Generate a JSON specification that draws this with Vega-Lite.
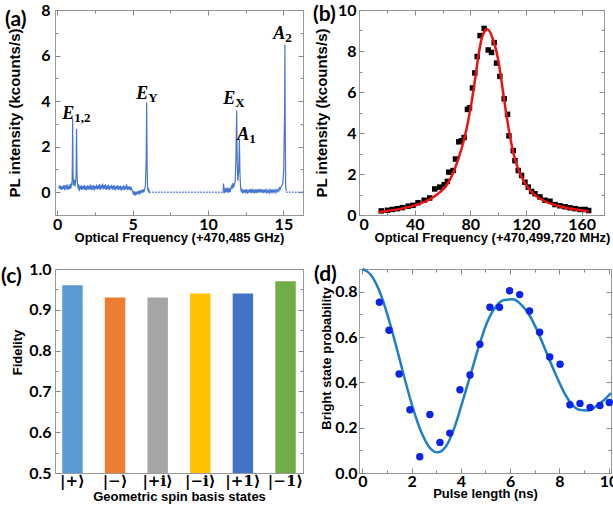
{
  "$schema": "https://vega.github.io/schema/vega-lite/v6.json",
  "padding": {"left": 0, "top": 1, "right": 0, "bottom": 0},
  "background": "white",
  "config": {
    "view": {"stroke": "#999999", "strokeWidth": 1},
    "axis": {"grid": false, "domain": false, "tickColor": "#888888", "tickWidth": 1, "labelFont": "Lato", "labelFontWeight": "bold", "labelFontSize": 16, "labelColor": "black", "titleFont": "Liberation Sans", "titleFontWeight": "bold", "titleFontSize": 13, "titleColor": "black"},
    "title": {"font": "Lato", "fontSize": 21, "fontWeight": "bold", "color": "black", "anchor": "start", "frame": "group", "baseline": "top", "offset": 0}
  },
  "datasets": {
    "specA": [
      {"f":0.10,"pl":0.18,"seg":"a"},{"f":0.15,"pl":0.30,"seg":"a"},{"f":0.20,"pl":0.12,"seg":"a"},{"f":0.25,"pl":0.28,"seg":"a"},{"f":0.30,"pl":0.10,"seg":"a"},{"f":0.35,"pl":0.26,"seg":"a"},{"f":0.40,"pl":0.15,"seg":"a"},{"f":0.45,"pl":0.32,"seg":"a"},{"f":0.50,"pl":0.08,"seg":"a"},{"f":0.55,"pl":0.25,"seg":"a"},{"f":0.60,"pl":0.18,"seg":"a"},{"f":0.65,"pl":0.35,"seg":"a"},{"f":0.70,"pl":0.10,"seg":"a"},{"f":0.75,"pl":0.28,"seg":"a"},{"f":0.80,"pl":0.14,"seg":"a"},{"f":0.85,"pl":0.36,"seg":"a"},{"f":0.90,"pl":0.16,"seg":"a"},{"f":0.95,"pl":0.42,"seg":"a"},{"f":0.98,"pl":0.30,"seg":"a"},{"f":1.00,"pl":1.20,"seg":"a"},{"f":1.02,"pl":3.25,"seg":"a"},{"f":1.04,"pl":1.00,"seg":"a"},{"f":1.07,"pl":0.45,"seg":"a"},{"f":1.10,"pl":0.30,"seg":"a"},{"f":1.14,"pl":0.55,"seg":"a"},{"f":1.18,"pl":0.25,"seg":"a"},{"f":1.22,"pl":0.50,"seg":"a"},{"f":1.25,"pl":0.70,"seg":"a"},{"f":1.28,"pl":2.77,"seg":"a"},{"f":1.31,"pl":0.80,"seg":"a"},{"f":1.34,"pl":0.40,"seg":"a"},{"f":1.38,"pl":0.15,"seg":"a"},{"f":1.42,"pl":0.35,"seg":"a"},{"f":1.46,"pl":0.05,"seg":"a"},{"f":1.50,"pl":0.28,"seg":"a"},{"f":1.55,"pl":0.12,"seg":"a"},{"f":1.60,"pl":0.30,"seg":"a"},{"f":1.65,"pl":0.10,"seg":"a"},{"f":1.70,"pl":0.27,"seg":"a"},{"f":1.75,"pl":0.14,"seg":"a"},{"f":1.80,"pl":0.32,"seg":"a"},{"f":1.85,"pl":0.09,"seg":"a"},{"f":1.90,"pl":0.26,"seg":"a"},{"f":1.95,"pl":0.15,"seg":"a"},{"f":2.00,"pl":0.30,"seg":"a"},{"f":2.05,"pl":0.11,"seg":"a"},{"f":2.10,"pl":0.28,"seg":"a"},{"f":2.15,"pl":0.13,"seg":"a"},{"f":2.20,"pl":0.33,"seg":"a"},{"f":2.25,"pl":0.10,"seg":"a"},{"f":2.30,"pl":0.25,"seg":"a"},{"f":2.35,"pl":0.16,"seg":"a"},{"f":2.40,"pl":0.31,"seg":"a"},{"f":2.45,"pl":0.08,"seg":"a"},{"f":2.50,"pl":0.27,"seg":"a"},{"f":2.55,"pl":0.14,"seg":"a"},{"f":2.60,"pl":0.34,"seg":"a"},{"f":2.65,"pl":0.12,"seg":"a"},{"f":2.70,"pl":0.29,"seg":"a"},{"f":2.75,"pl":0.15,"seg":"a"},{"f":2.80,"pl":0.36,"seg":"a"},{"f":2.85,"pl":0.10,"seg":"a"},{"f":2.90,"pl":0.30,"seg":"a"},{"f":2.95,"pl":0.17,"seg":"a"},{"f":3.00,"pl":0.38,"seg":"a"},{"f":3.05,"pl":0.12,"seg":"a"},{"f":3.10,"pl":0.31,"seg":"a"},{"f":3.15,"pl":0.15,"seg":"a"},{"f":3.20,"pl":0.35,"seg":"a"},{"f":3.25,"pl":0.10,"seg":"a"},{"f":3.30,"pl":0.29,"seg":"a"},{"f":3.35,"pl":0.14,"seg":"a"},{"f":3.40,"pl":0.33,"seg":"a"},{"f":3.45,"pl":0.09,"seg":"a"},{"f":3.50,"pl":0.27,"seg":"a"},{"f":3.55,"pl":0.16,"seg":"a"},{"f":3.60,"pl":0.32,"seg":"a"},{"f":3.65,"pl":0.11,"seg":"a"},{"f":3.70,"pl":0.28,"seg":"a"},{"f":3.75,"pl":0.13,"seg":"a"},{"f":3.80,"pl":0.30,"seg":"a"},{"f":3.85,"pl":0.08,"seg":"a"},{"f":3.90,"pl":0.26,"seg":"a"},{"f":3.95,"pl":0.15,"seg":"a"},{"f":4.00,"pl":0.31,"seg":"a"},{"f":4.05,"pl":0.10,"seg":"a"},{"f":4.10,"pl":0.27,"seg":"a"},{"f":4.15,"pl":0.13,"seg":"a"},{"f":4.20,"pl":0.29,"seg":"a"},{"f":4.25,"pl":0.07,"seg":"a"},{"f":4.30,"pl":0.25,"seg":"a"},{"f":4.35,"pl":0.12,"seg":"a"},{"f":4.40,"pl":0.30,"seg":"a"},{"f":4.45,"pl":0.09,"seg":"a"},{"f":4.50,"pl":0.26,"seg":"a"},{"f":4.55,"pl":0.14,"seg":"a"},{"f":4.60,"pl":0.35,"seg":"a"},{"f":4.65,"pl":0.10,"seg":"a"},{"f":4.70,"pl":0.24,"seg":"a"},{"f":4.75,"pl":0.12,"seg":"a"},{"f":4.80,"pl":0.27,"seg":"a"},{"f":4.85,"pl":0.08,"seg":"a"},{"f":4.90,"pl":0.22,"seg":"a"},{"f":4.95,"pl":0.10,"seg":"a"},{"f":5.00,"pl":0.05,"seg":"a"},{"f":5.05,"pl":-0.10,"seg":"a"},{"f":5.10,"pl":0.05,"seg":"a"},{"f":5.15,"pl":-0.15,"seg":"a"},{"f":5.20,"pl":0.02,"seg":"a"},{"f":5.25,"pl":-0.12,"seg":"a"},{"f":5.30,"pl":0.04,"seg":"a"},{"f":5.35,"pl":-0.08,"seg":"a"},{"f":5.40,"pl":0.06,"seg":"a"},{"f":5.45,"pl":-0.10,"seg":"a"},{"f":5.50,"pl":0.08,"seg":"a"},{"f":5.55,"pl":-0.05,"seg":"a"},{"f":5.60,"pl":0.10,"seg":"a"},{"f":5.65,"pl":-0.02,"seg":"a"},{"f":5.70,"pl":0.12,"seg":"a"},{"f":5.75,"pl":0.00,"seg":"a"},{"f":5.80,"pl":0.15,"seg":"a"},{"f":5.85,"pl":0.30,"seg":"a"},{"f":5.90,"pl":1.50,"seg":"a"},{"f":5.93,"pl":3.94,"seg":"a"},{"f":5.96,"pl":1.20,"seg":"a"},{"f":5.99,"pl":0.20,"seg":"a"},{"f":6.02,"pl":0.05,"seg":"a"},{"f":6.05,"pl":0.18,"seg":"a"},{"f":6.08,"pl":-0.02,"seg":"a"},{"f":6.10,"pl":0.10,"seg":"a"},
      {"f":11.00,"pl":0.05,"seg":"b"},{"f":11.03,"pl":0.38,"seg":"b"},{"f":11.06,"pl":-0.05,"seg":"b"},{"f":11.10,"pl":0.20,"seg":"b"},{"f":11.14,"pl":-0.02,"seg":"b"},{"f":11.18,"pl":0.15,"seg":"b"},{"f":11.22,"pl":0.02,"seg":"b"},{"f":11.26,"pl":0.22,"seg":"b"},{"f":11.30,"pl":-0.03,"seg":"b"},{"f":11.34,"pl":0.12,"seg":"b"},{"f":11.38,"pl":0.05,"seg":"b"},{"f":11.42,"pl":0.18,"seg":"b"},{"f":11.46,"pl":0.00,"seg":"b"},{"f":11.50,"pl":0.10,"seg":"b"},{"f":11.55,"pl":0.25,"seg":"b"},{"f":11.60,"pl":0.15,"seg":"b"},{"f":11.65,"pl":0.40,"seg":"b"},{"f":11.70,"pl":0.20,"seg":"b"},{"f":11.75,"pl":0.35,"seg":"b"},{"f":11.80,"pl":0.45,"seg":"b"},{"f":11.85,"pl":1.50,"seg":"b"},{"f":11.90,"pl":3.59,"seg":"b"},{"f":11.94,"pl":1.20,"seg":"b"},{"f":11.98,"pl":0.50,"seg":"b"},{"f":12.03,"pl":0.90,"seg":"b"},{"f":12.08,"pl":2.30,"seg":"b"},{"f":12.12,"pl":0.80,"seg":"b"},{"f":12.16,"pl":0.20,"seg":"b"},{"f":12.20,"pl":0.05,"seg":"b"},{"f":12.25,"pl":0.12,"seg":"b"},{"f":12.30,"pl":-0.05,"seg":"b"},{"f":12.35,"pl":0.10,"seg":"b"},{"f":12.40,"pl":-0.02,"seg":"b"},{"f":12.45,"pl":0.13,"seg":"b"},{"f":12.50,"pl":0.00,"seg":"b"},{"f":12.55,"pl":0.08,"seg":"b"},{"f":12.60,"pl":-0.06,"seg":"b"},{"f":12.65,"pl":0.11,"seg":"b"},{"f":12.70,"pl":-0.03,"seg":"b"},{"f":12.75,"pl":0.09,"seg":"b"},{"f":12.80,"pl":0.02,"seg":"b"},{"f":12.85,"pl":0.14,"seg":"b"},{"f":12.90,"pl":-0.04,"seg":"b"},{"f":12.95,"pl":0.10,"seg":"b"},{"f":13.00,"pl":0.01,"seg":"b"},{"f":13.05,"pl":0.12,"seg":"b"},{"f":13.10,"pl":-0.05,"seg":"b"},{"f":13.15,"pl":0.08,"seg":"b"},{"f":13.20,"pl":0.00,"seg":"b"},{"f":13.25,"pl":0.13,"seg":"b"},{"f":13.30,"pl":-0.03,"seg":"b"},{"f":13.35,"pl":0.10,"seg":"b"},{"f":13.40,"pl":0.03,"seg":"b"},{"f":13.45,"pl":0.15,"seg":"b"},{"f":13.50,"pl":-0.02,"seg":"b"},{"f":13.55,"pl":0.09,"seg":"b"},{"f":13.60,"pl":0.01,"seg":"b"},{"f":13.65,"pl":0.12,"seg":"b"},{"f":13.70,"pl":-0.04,"seg":"b"},{"f":13.75,"pl":0.08,"seg":"b"},{"f":13.80,"pl":0.02,"seg":"b"},{"f":13.85,"pl":0.11,"seg":"b"},{"f":13.90,"pl":-0.05,"seg":"b"},{"f":13.95,"pl":0.07,"seg":"b"},{"f":14.00,"pl":0.00,"seg":"b"},{"f":14.05,"pl":0.10,"seg":"b"},{"f":14.10,"pl":-0.03,"seg":"b"},{"f":14.15,"pl":0.09,"seg":"b"},{"f":14.20,"pl":0.01,"seg":"b"},{"f":14.25,"pl":0.12,"seg":"b"},{"f":14.30,"pl":-0.04,"seg":"b"},{"f":14.35,"pl":0.08,"seg":"b"},{"f":14.40,"pl":0.02,"seg":"b"},{"f":14.45,"pl":0.11,"seg":"b"},{"f":14.50,"pl":-0.02,"seg":"b"},{"f":14.55,"pl":0.09,"seg":"b"},{"f":14.60,"pl":0.04,"seg":"b"},{"f":14.65,"pl":0.13,"seg":"b"},{"f":14.70,"pl":0.05,"seg":"b"},{"f":14.75,"pl":0.20,"seg":"b"},{"f":14.80,"pl":0.15,"seg":"b"},{"f":14.85,"pl":0.25,"seg":"b"},{"f":14.90,"pl":0.30,"seg":"b"},{"f":14.95,"pl":0.35,"seg":"b"},{"f":15.02,"pl":0.90,"seg":"b"},{"f":15.08,"pl":3.50,"seg":"b"},{"f":15.10,"pl":6.47,"seg":"b"},{"f":15.12,"pl":3.00,"seg":"b"},{"f":15.15,"pl":0.30,"seg":"b"},{"f":15.18,"pl":0.05,"seg":"b"}
    ],
    "baseA": [
      {"f":6.10,"pl":0,"seg":"c"},{"f":11.00,"pl":0,"seg":"c"},
      {"f":15.18,"pl":0,"seg":"d"},{"f":16.30,"pl":0,"seg":"d"}
    ],
    "peaksA": [
      {"f":1.13,"pl":3.22,"main":"E","sub":"1,2"},
      {"f":6.03,"pl":4.10,"main":"E","sub":"Y"},
      {"f":11.81,"pl":3.88,"main":"E","sub":"X"},
      {"f":12.74,"pl":2.30,"main":"A","sub":"1"},
      {"f":15.13,"pl":6.74,"main":"A","sub":"2"}
    ],
    "ptsB": [
      {"f":16,"pl":0.20},{"f":20.4,"pl":0.23},{"f":24,"pl":0.27},{"f":27.6,"pl":0.31},{"f":31.2,"pl":0.36},{"f":35.3,"pl":0.43},{"f":38.8,"pl":0.47},{"f":42.4,"pl":0.60},{"f":46.8,"pl":0.72},{"f":50.8,"pl":0.83},{"f":54.4,"pl":1.27},{"f":58,"pl":1.36},{"f":61.2,"pl":1.48},{"f":63.5,"pl":1.64},{"f":64.5,"pl":2.09},{"f":67.6,"pl":2.17},{"f":69.3,"pl":2.73},{"f":71.7,"pl":3.57},{"f":73.6,"pl":3.62},{"f":75.5,"pl":3.78},{"f":77.9,"pl":5.15},{"f":79.4,"pl":5.23},{"f":81.5,"pl":6.20},{"f":83.2,"pl":6.93},{"f":84.9,"pl":7.73},{"f":87,"pl":8.75},{"f":89.9,"pl":9.10},{"f":92.8,"pl":8.05},{"f":95.2,"pl":7.93},{"f":97.1,"pl":8.41},{"f":98.8,"pl":7.41},{"f":101.2,"pl":6.76},{"f":104.3,"pl":5.67},{"f":106.7,"pl":4.91},{"f":107.7,"pl":3.86},{"f":110.8,"pl":3.14},{"f":112,"pl":2.65},{"f":114.4,"pl":2.17},{"f":116.8,"pl":1.93},{"f":119.2,"pl":1.60},{"f":121.6,"pl":1.36},{"f":124,"pl":1.15},{"f":126.4,"pl":1.04},{"f":130,"pl":0.88},{"f":133.6,"pl":0.72},{"f":137.2,"pl":0.67},{"f":140.8,"pl":0.51},{"f":144.4,"pl":0.45},{"f":148,"pl":0.40},{"f":151.6,"pl":0.35},{"f":155.2,"pl":0.31},{"f":158.8,"pl":0.27},{"f":162.4,"pl":0.27},{"f":165,"pl":0.22}
    ],
    "fitB": [
      {"f":14,"pl":0.15},{"f":20,"pl":0.20},{"f":30.5,"pl":0.31},{"f":40,"pl":0.47},{"f":49.6,"pl":0.72},{"f":56.8,"pl":1.04},{"f":62.8,"pl":1.44},{"f":68.8,"pl":2.25},{"f":73.6,"pl":3.22},{"f":77.2,"pl":4.18},{"f":80.8,"pl":5.48},{"f":83.7,"pl":6.76},{"f":86.1,"pl":7.90},{"f":88.5,"pl":8.70},{"f":90.9,"pl":9.02},{"f":92.1,"pl":9.06},{"f":96.4,"pl":8.54},{"f":100,"pl":7.57},{"f":102.4,"pl":6.52},{"f":105.3,"pl":5.15},{"f":108.4,"pl":3.86},{"f":112,"pl":2.73},{"f":116.8,"pl":1.85},{"f":124,"pl":1.12},{"f":133.6,"pl":0.67},{"f":145.5,"pl":0.40},{"f":165,"pl":0.18}
    ],
    "barsC": [
      {"state":"|+⟩","fid":0.96},{"state":"|−⟩","fid":0.93},{"state":"|+i⟩","fid":0.93},{"state":"|−i⟩","fid":0.94},{"state":"|+1⟩","fid":0.94},{"state":"|−1⟩","fid":0.97}
    ],
    "ptsD": [
      {"t":0.69,"p":0.753},{"t":1.08,"p":0.63},{"t":1.49,"p":0.437},{"t":1.93,"p":0.279},{"t":2.33,"p":0.072},{"t":2.74,"p":0.258},{"t":3.15,"p":0.135},{"t":3.55,"p":0.176},{"t":3.96,"p":0.367},{"t":4.37,"p":0.432},{"t":4.77,"p":0.568},{"t":5.18,"p":0.731},{"t":5.57,"p":0.731},{"t":5.98,"p":0.804},{"t":6.39,"p":0.787},{"t":6.79,"p":0.715},{"t":7.2,"p":0.621},{"t":7.61,"p":0.512},{"t":8.03,"p":0.48},{"t":8.43,"p":0.301},{"t":8.84,"p":0.307},{"t":9.25,"p":0.289},{"t":9.65,"p":0.298},{"t":10.03,"p":0.311}
    ],
    "fitD": [
      {"t":0,"p":0.9},{"t":0.34,"p":0.875},{"t":0.68,"p":0.805},{"t":1.02,"p":0.697},{"t":1.36,"p":0.564},{"t":1.69,"p":0.427},{"t":2.03,"p":0.294},{"t":2.37,"p":0.186},{"t":2.71,"p":0.115},{"t":3.05,"p":0.091},{"t":3.39,"p":0.117},{"t":3.73,"p":0.198},{"t":4.07,"p":0.316},{"t":4.41,"p":0.44},{"t":4.75,"p":0.565},{"t":5.08,"p":0.668},{"t":5.42,"p":0.734},{"t":5.76,"p":0.763},{"t":6.1,"p":0.766},{"t":6.44,"p":0.744},{"t":6.78,"p":0.697},{"t":7.12,"p":0.624},{"t":7.46,"p":0.536},{"t":7.8,"p":0.448},{"t":8.14,"p":0.367},{"t":8.47,"p":0.308},{"t":8.81,"p":0.279},{"t":9.15,"p":0.276},{"t":9.49,"p":0.294},{"t":9.83,"p":0.323},{"t":10.1,"p":0.352}
    ]
  },
  "columns": 2,
  "spacing": {"row": 54, "column": 56},
  "bounds": "flush",
  "concat": [
    {
      "width": 248, "height": 205,
      "title": {"text": "(a)", "dx": -50, "dy": 32},
      "layer": [
        {"data": {"name": "specA"}, "mark": {"type": "line", "color": "#4677d0", "strokeWidth": 1.2},
         "encoding": {
           "x": {"field": "f", "type": "quantitative", "scale": {"domain": [-0.15, 16.3], "nice": false, "zero": false},
                 "axis": {"orient": "bottom", "title": "Optical Frequency (+470,485 GHz)", "values": [0, 2.5, 5, 7.5, 10, 12.5, 15], "labelExpr": "datum.value % 5 == 0 ? datum.label : ''", "tickSize": {"condition": {"test": "datum.value % 5 != 0", "value": -3}, "value": -5}, "labelPadding": 6, "titlePadding": -1}},
           "y": {"field": "pl", "type": "quantitative", "scale": {"domain": [-1, 8], "nice": false, "zero": false},
                 "axis": {"orient": "left", "title": "PL intensity (kcounts/s)", "titleFontSize": 15, "values": [-1, 0, 1, 2, 3, 4, 5, 6, 7, 8], "labelExpr": "datum.value % 2 == 0 ? datum.label : ''", "tickSize": {"condition": {"test": "datum.value % 2 != 0", "value": -3}, "value": -5}, "labelPadding": 10, "titlePadding": 18}},
           "detail": {"field": "seg"}
         }},
        {"data": {"name": "baseA"}, "mark": {"type": "line", "color": "#4677d0", "strokeWidth": 1.4, "strokeDash": [1.5, 1.5]},
         "encoding": {"x": {"field": "f", "type": "quantitative", "axis": null}, "y": {"field": "pl", "type": "quantitative", "axis": null}, "detail": {"field": "seg"}}},
        {"data": {"name": "peaksA"}, "mark": {"type": "text", "align": "right", "baseline": "alphabetic", "font": "Liberation Serif", "fontSize": 18, "fontWeight": "bold", "fontStyle": "italic", "color": "black"},
         "encoding": {"x": {"field": "f", "type": "quantitative", "axis": null}, "y": {"field": "pl", "type": "quantitative", "axis": null}, "text": {"field": "main"}}},
        {"data": {"name": "peaksA"}, "mark": {"type": "text", "align": "left", "baseline": "alphabetic", "dy": 3, "font": "Liberation Serif", "fontSize": 13, "fontWeight": "bold", "color": "black"},
         "encoding": {"x": {"field": "f", "type": "quantitative", "axis": null}, "y": {"field": "pl", "type": "quantitative", "axis": null}, "text": {"field": "sub"}}},
        {"data": {"name": "baseA"}, "mark": {"type": "point", "opacity": 0},
         "encoding": {
           "x": {"field": "f", "type": "quantitative", "axis": {"orient": "top", "title": null, "labels": false, "values": [0, 2.5, 5, 7.5, 10, 12.5, 15], "tickSize": {"condition": {"test": "datum.value % 5 != 0", "value": -3}, "value": -5}}},
           "y": {"field": "pl", "type": "quantitative", "axis": {"orient": "right", "title": null, "labels": false, "values": [-1, 0, 1, 2, 3, 4, 5, 6, 7, 8], "tickSize": {"condition": {"test": "datum.value % 2 != 0", "value": -3}, "value": -5}}}
         }}
      ],
      "resolve": {"axis": {"x": "independent", "y": "independent"}}
    },
    {
      "width": 245, "height": 205,
      "title": {"text": "(b)", "dx": -46, "dy": 27},
      "layer": [
        {"data": {"name": "ptsB"}, "mark": {"type": "point", "shape": "square", "filled": true, "color": "black", "size": 30, "opacity": 1},
         "encoding": {
           "x": {"field": "f", "type": "quantitative", "scale": {"domain": [0, 176], "nice": false, "zero": false},
                 "axis": {"orient": "bottom", "title": "Optical Frequency (+470,499,720 MHz)", "titleX": 133, "values": [0, 20, 40, 60, 80, 100, 120, 140, 160], "labelExpr": "datum.value % 40 == 0 ? datum.label : ''", "tickSize": {"condition": {"test": "datum.value % 40 != 0", "value": -3}, "value": -5}, "labelPadding": 6, "titlePadding": -1}},
           "y": {"field": "pl", "type": "quantitative", "scale": {"domain": [0, 10], "nice": false},
                 "axis": {"orient": "left", "title": "PL intensity (kcounts/s)", "titleFontSize": 15, "values": [0, 1, 2, 3, 4, 5, 6, 7, 8, 9, 10], "labelExpr": "datum.value % 2 == 0 ? datum.label : ''", "tickSize": {"condition": {"test": "datum.value % 2 != 0", "value": -3}, "value": -5}, "labelPadding": 8, "titlePadding": 8}}
         }},
        {"data": {"name": "fitB"}, "mark": {"type": "line", "color": "#ee1111", "strokeWidth": 2.5, "interpolate": "monotone"},
         "encoding": {"x": {"field": "f", "type": "quantitative", "axis": null}, "y": {"field": "pl", "type": "quantitative", "axis": null}}},
        {"data": {"name": "fitB"}, "mark": {"type": "point", "opacity": 0},
         "encoding": {
           "x": {"field": "f", "type": "quantitative", "axis": {"orient": "top", "title": null, "labels": false, "values": [0, 20, 40, 60, 80, 100, 120, 140, 160], "tickSize": {"condition": {"test": "datum.value % 40 != 0", "value": -3}, "value": -5}}},
           "y": {"field": "pl", "type": "quantitative", "axis": {"orient": "right", "title": null, "labels": false, "values": [0, 1, 2, 3, 4, 5, 6, 7, 8, 9, 10], "tickSize": {"condition": {"test": "datum.value % 2 != 0", "value": -3}, "value": -5}}}
         }}
      ],
      "resolve": {"axis": {"x": "independent", "y": "independent"}}
    },
    {
      "width": 248, "height": 204,
      "title": {"text": "(c)", "dx": -54, "dy": 30},
      "layer": [
        {"data": {"name": "barsC"}, "mark": {"type": "bar"},
         "encoding": {
           "x": {"field": "state", "type": "nominal", "sort": null, "scale": {"paddingInner": 0.52, "paddingOuter": 0.17},
                 "axis": {"orient": "bottom", "title": "Geometric spin basis states", "labelAngle": 0, "ticks": false, "labelFont": "DejaVu Serif", "labelFontSize": 15, "labelPadding": 0, "titlePadding": 2}},
           "y": {"field": "fid", "type": "quantitative", "scale": {"domain": [0.5, 1.0], "nice": false, "zero": false},
                 "axis": {"orient": "left", "title": "Fidelity", "titleY": 83, "values": [0.5, 0.55, 0.6, 0.65, 0.7, 0.75, 0.8, 0.85, 0.9, 0.95, 1.0], "format": ".1f", "labelExpr": "round(datum.value * 100) % 10 == 0 ? datum.label : ''", "tickSize": {"condition": {"test": "round(datum.value * 100) % 10 != 0", "value": -3}, "value": -5}, "labelPadding": 9, "titlePadding": 4}},
           "y2": {"datum": 0.5},
           "color": {"field": "state", "type": "nominal", "sort": null, "legend": null,
                     "scale": {"domain": ["|+⟩", "|−⟩", "|+i⟩", "|−i⟩", "|+1⟩", "|−1⟩"], "range": ["#5b9bd5", "#ed7d31", "#a5a5a5", "#ffc000", "#4472c4", "#70ad47"]}}
         }},
        {"data": {"name": "barsC"}, "mark": {"type": "point", "opacity": 0},
         "encoding": {
           "x": {"field": "state", "type": "nominal", "sort": null, "axis": null},
           "y": {"field": "fid", "type": "quantitative", "axis": {"orient": "right", "title": null, "labels": false, "values": [0.5, 0.55, 0.6, 0.65, 0.7, 0.75, 0.8, 0.85, 0.9, 0.95, 1.0], "tickSize": {"condition": {"test": "round(datum.value * 100) % 10 != 0", "value": -3}, "value": -5}}}
         }}
      ],
      "resolve": {"axis": {"x": "independent", "y": "independent"}}
    },
    {
      "width": 252, "height": 204,
      "title": {"text": "(d)", "dx": -45, "dy": 25},
      "layer": [
        {"data": {"name": "fitD"}, "mark": {"type": "line", "color": "#1f7fc8", "strokeWidth": 2.5, "interpolate": "monotone"},
         "encoding": {
           "x": {"field": "t", "type": "quantitative", "scale": {"domain": [-0.14, 10.1], "nice": false, "zero": false},
                 "axis": {"orient": "bottom", "title": "Pulse length (ns)", "values": [0, 1, 2, 3, 4, 5, 6, 7, 8, 9, 10], "labelExpr": "datum.value % 2 == 0 ? datum.label : ''", "tickSize": {"condition": {"test": "datum.value % 2 != 0", "value": -3}, "value": -5}, "labelPadding": 5, "titlePadding": -2}},
           "y": {"field": "p", "type": "quantitative", "scale": {"domain": [0, 0.9], "nice": false},
                 "axis": {"orient": "left", "title": "Bright state probability", "titleY": 89, "values": [0, 0.1, 0.2, 0.3, 0.4, 0.5, 0.6, 0.7, 0.8], "format": ".1f", "labelExpr": "round(datum.value * 10) % 2 == 0 ? datum.label : ''", "tickSize": {"condition": {"test": "round(datum.value * 10) % 2 != 0", "value": -3}, "value": -5}, "labelPadding": 7, "titlePadding": 1}}
         }},
        {"data": {"name": "ptsD"}, "mark": {"type": "point", "filled": true, "color": "#0b24e6", "size": 55, "opacity": 1},
         "encoding": {"x": {"field": "t", "type": "quantitative", "axis": null}, "y": {"field": "p", "type": "quantitative", "axis": null}}},
        {"data": {"name": "fitD"}, "mark": {"type": "point", "opacity": 0},
         "encoding": {
           "x": {"field": "t", "type": "quantitative", "axis": {"orient": "top", "title": null, "labels": false, "values": [0, 1, 2, 3, 4, 5, 6, 7, 8, 9, 10], "tickSize": {"condition": {"test": "datum.value % 2 != 0", "value": -3}, "value": -5}}},
           "y": {"field": "p", "type": "quantitative", "axis": {"orient": "right", "title": null, "labels": false, "values": [0, 0.1, 0.2, 0.3, 0.4, 0.5, 0.6, 0.7, 0.8], "tickSize": {"condition": {"test": "round(datum.value * 10) % 2 != 0", "value": -3}, "value": -5}}}
         }}
      ],
      "resolve": {"axis": {"x": "independent", "y": "independent"}}
    }
  ]
}
